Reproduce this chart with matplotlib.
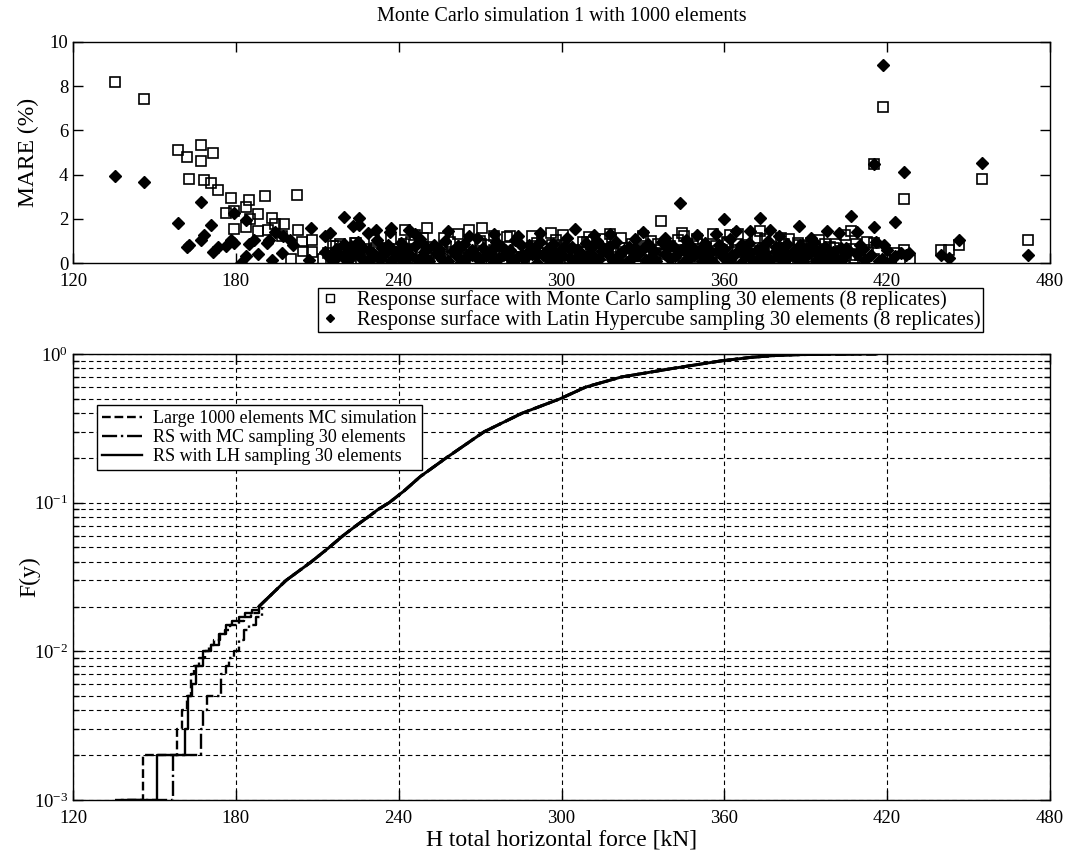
import matplotlib
matplotlib.use("Agg")
import matplotlib.pyplot as plt
from matplotlib.ticker import LogLocator, FixedLocator, NullFormatter

plt.rcParams['font.family'] = ['Liberation Serif', 'DejaVu Serif']
plt.rcParams['mathtext.fontset'] = 'stix'

# ---- top panel: MARE of the response surfaces ----
# Monte Carlo sampled response surface (open squares)
mc_out_x = [135.6, 146.1, 158.6, 162.0, 167.3, 167.3, 171.5, 162.9, 168.4, 171.0,
            173.4, 178.2, 176.5, 179.4, 183.9, 184.9, 190.9, 202.4, 179.5, 183.8,
            185.2, 188.2, 188.2, 193.3, 192.0, 194.6, 197.6, 197.1, 202.9, 204.4,
            208.0, 200.4, 204.8, 208.0, 212.0, 215.8, 224.2, 237.3, 242.2, 250.6,
            265.8, 270.6, 256.7, 275.3, 289.2, 219.4, 418.5, 415.3, 455.0, 426.2,
            336.8, 373.2, 355.7, 344.5, 406.7, 404.5, 471.8, 446.4, 440.0, 442.8,
            428.3, 426.2, 422.8, 420.0, 408.7, 408.7, 412.5, 415.3, 392.3, 397.0,
            387.0, 318.0, 330.0, 300.5, 310.0, 350.0, 362.0, 381.0, 401.0, 413.0,
            246.0, 262.0, 281.0, 296.0, 322.0, 345.0, 365.0, 372.0, 384.0, 395.0]
mc_out_y = [8.20, 7.40, 5.13, 4.80, 5.36, 4.61, 4.97, 3.82, 3.74, 3.64,
            3.29, 2.95, 2.28, 2.35, 2.54, 2.83, 3.01, 3.07, 1.56, 1.62,
            1.99, 2.20, 1.47, 2.02, 1.50, 1.77, 1.75, 1.24, 1.50, 0.94,
            1.02, 0.19, 0.55, 0.49, 0.19, 0.75, 0.90, 1.08, 1.50, 1.57,
            1.50, 1.57, 1.15, 1.23, 1.20, 0.07, 7.07, 4.46, 3.82, 2.89,
            1.92, 1.47, 1.32, 1.35, 1.47, 1.27, 1.05, 0.82, 0.57, 0.57,
            0.12, 0.57, 0.45, 0.15, 0.34, 0.87, 0.93, 0.90, 0.82, 0.87,
            0.90, 1.30, 1.22, 1.28, 1.18, 1.10, 1.25, 1.15, 0.85, 0.60,
            1.25, 1.30, 1.20, 1.35, 1.15, 1.20, 1.30, 1.15, 1.10, 1.05]
mc_band_x = [215, 219, 222, 226, 229, 233, 236, 240, 243, 247,
             250, 254, 257, 261, 264, 268, 271, 275, 278, 282,
             285, 289, 292, 296, 299, 303, 306, 310, 313, 317,
             320, 324, 327, 331, 334, 338, 341, 345, 348, 352,
             355, 359, 362, 366, 369, 373, 376, 380, 383, 387,
             390, 394, 397, 401, 404, 408, 411, 415,
             217, 221, 224, 228, 231, 235, 238, 242, 245, 249,
             252, 256, 259, 263, 266, 270, 273, 277, 280, 284,
             287, 291, 294, 298, 301, 305, 308, 312, 315, 319,
             322, 326, 329, 333, 336, 340, 343, 347, 350, 354,
             357, 361, 364, 368, 371, 375, 378, 382, 385, 389,
             392, 396, 399, 403,
             214, 220.5, 227, 232.5, 239, 244.5, 251, 256.5, 263, 268.5,
             275, 280.5, 287, 292.5, 299, 304.5, 311, 316.5, 323, 328.5,
             335, 340.5, 347, 352.5, 359, 364.5, 371, 376.5, 383, 388.5,
             395, 400.5, 407,
             218.5, 225, 231.5, 238, 244.5, 251, 257.5, 264, 270.5, 277,
             283.5, 290, 296.5, 303, 309.5, 316, 322.5, 329, 335.5, 342,
             348.5, 355, 361.5, 368, 374.5, 381, 387.5, 394, 400.5, 410]
mc_band_y = [0.20, 0.06, 0.33, 0.14, 0.02, 0.27, 0.38, 0.09, 0.22, 0.04,
             0.31, 0.16, 0.42, 0.07, 0.25, 0.12, 0.36, 0.03, 0.19, 0.29,
             0.10, 0.40, 0.05, 0.23, 0.15, 0.34, 0.01, 0.26, 0.11, 0.37,
             0.08, 0.21, 0.30, 0.04, 0.17, 0.39, 0.13, 0.02, 0.28, 0.10,
             0.35, 0.06, 0.24, 0.15, 0.41, 0.03, 0.20, 0.11, 0.32, 0.07,
             0.26, 0.14, 0.02, 0.30, 0.09, 0.22, 0.05, 0.18,
             0.78, 0.55, 0.92, 0.64, 1.05, 0.70, 0.50, 0.86, 0.61, 1.12,
             0.74, 0.58, 0.96, 0.67, 0.52, 1.00, 0.81, 0.60, 1.18, 0.71,
             0.54, 0.89, 0.65, 1.06, 0.76, 0.57, 0.94, 0.62, 1.10, 0.72,
             0.50, 0.84, 0.68, 0.98, 0.59, 0.79, 1.02, 0.63, 0.88, 0.53,
             0.75, 0.95, 0.60, 0.82, 0.56, 1.08, 0.69, 0.87, 0.58, 0.77,
             0.91, 0.64, 0.73, 0.55,
             0.44, 0.58, 0.36, 0.50, 0.41, 0.63, 0.47, 0.33, 0.55, 0.45,
             0.60, 0.38, 0.52, 0.43, 0.66, 0.35, 0.49, 0.57, 0.40, 0.61,
             0.46, 0.37, 0.54, 0.42, 0.59, 0.48, 0.34, 0.56, 0.44, 0.51,
             0.39, 0.47, 0.62,
             0.85, 0.12, 0.66, 0.28, 0.93, 0.08, 0.72, 0.19, 0.88, 0.31,
             0.62, 0.05, 0.80, 0.24, 0.97, 0.14, 0.69, 0.30, 0.86, 0.10,
             0.75, 0.21, 0.91, 0.06, 0.67, 0.26, 0.83, 0.16, 0.70, 0.35]

# Latin Hypercube sampled response surface (filled diamonds)
lh_out_x = [135.6, 146.1, 158.6, 162.0, 162.9, 167.3, 167.3, 168.4, 171.0, 171.5,
            173.4, 176.5, 178.2, 179.4, 179.4, 183.8, 183.8, 185.0, 186.7, 188.2,
            191.4, 192.4, 193.3, 194.3, 182.0, 197.1, 197.5, 200.1, 201.0, 207.6,
            213.0, 214.6, 219.9, 223.2, 225.2, 225.4, 231.6, 228.7, 237.3, 236.7,
            243.7, 207.0, 214.6, 418.5, 415.3, 426.2, 455.0, 343.6, 360.0, 373.2,
            406.7, 422.9, 415.3, 387.5, 364.3, 369.6, 377.0, 398.0, 402.2, 408.8,
            471.8, 446.4, 440.0, 442.8, 428.0, 412.0, 404.0, 406.0, 410.0, 416.0,
            418.0, 420.0, 423.0, 425.0, 427.0, 246.0, 258.0, 275.0, 292.0, 305.0,
            318.0, 330.0, 350.0, 284.0, 266.0, 312.0, 338.0, 357.0, 392.0, 380.0,
            403.5, 409.0, 411.0, 414.0, 417.0, 419.0, 421.0]
lh_out_y = [3.94, 3.65, 1.80, 0.72, 0.82, 2.77, 1.02, 1.27, 1.74, 0.48,
            0.72, 0.78, 1.02, 0.90, 2.25, 1.95, 0.33, 0.87, 1.02, 0.42,
            0.90, 1.05, 0.15, 1.42, 0.00, 0.45, 1.20, 1.02, 0.82, 1.60,
            1.20, 1.38, 2.10, 1.68, 2.02, 1.72, 1.50, 1.35, 1.57, 1.39,
            1.50, 0.15, 0.22, 8.98, 4.46, 4.10, 4.52, 2.72, 1.99, 2.04,
            2.14, 1.87, 1.62, 1.69, 1.47, 1.47, 1.50, 1.47, 1.38, 1.39,
            0.34, 1.05, 0.34, 0.22, 0.45, 0.15, 0.30, 0.55, 0.80, 0.95,
            0.20, 0.60, 0.30, 0.45, 0.35, 1.30, 1.45, 1.30, 1.35, 1.55,
            1.30, 1.40, 1.25, 1.20, 1.22, 1.28, 1.15, 1.32, 1.12, 1.20,
            0.15, 0.40, 0.65, 0.35, 0.10, 0.80, 0.05]
lh_band_x = [216, 218, 221, 223, 226, 228, 230, 233, 235, 237,
             240, 242, 244, 247, 249, 251, 254, 256, 258, 261,
             263, 265, 268, 270, 272, 275, 277, 279, 282, 284,
             286, 289, 291, 293, 296, 298, 300, 303, 305, 307,
             310, 312, 314, 317, 319, 321, 324, 326, 328, 331,
             333, 335, 338, 340, 342, 345, 347, 349, 352, 354,
             356, 359, 361, 363, 366, 368, 370, 373, 375, 377,
             380, 382, 384, 387, 389, 391, 394, 396, 398, 401,
             217, 220, 222, 225, 227, 229, 232, 234, 236, 239,
             241, 243, 246, 248, 250, 253, 255, 257, 260, 262,
             264, 267, 269, 271, 274, 276, 278, 281, 283, 285,
             288, 290, 292, 295, 297, 299, 302, 304, 306, 309,
             311, 313, 316, 318, 320, 323, 325, 327, 330, 332,
             334, 337, 339, 341, 344, 346, 348, 351, 353, 355,
             358, 360, 362, 365, 367, 369, 372, 374, 376, 379,
             381, 383, 386, 388, 390, 393, 395, 397, 400, 403,
             213, 219.5, 224.5, 231, 237.5, 243, 249.5, 255, 261.5, 267,
             273.5, 279, 285.5, 291, 297.5, 303, 309.5, 315, 321.5, 327,
             333.5, 339, 345.5, 351, 357.5, 363, 369.5, 375, 381.5, 387,
             393.5, 399, 405,
             215.5, 222.5, 229.5, 236, 242.5, 249, 255.5, 262, 268.5, 275,
             281.5, 288, 294.5, 301, 307.5, 314, 320.5, 327, 333.5, 340,
             346.5, 353, 359.5, 366, 372.5, 379, 385.5, 392, 398.5, 405]
lh_band_y = [0.12, 0.35, 0.08, 0.41, 0.22, 0.05, 0.30, 0.18, 0.44, 0.10,
             0.27, 0.03, 0.38, 0.15, 0.32, 0.07, 0.43, 0.20, 0.11, 0.36,
             0.04, 0.25, 0.40, 0.13, 0.31, 0.06, 0.21, 0.39, 0.09, 0.28,
             0.16, 0.42, 0.02, 0.34, 0.19, 0.08, 0.37, 0.24, 0.12, 0.45,
             0.05, 0.29, 0.17, 0.40, 0.10, 0.33, 0.03, 0.22, 0.38, 0.14,
             0.26, 0.07, 0.41, 0.18, 0.31, 0.04, 0.23, 0.36, 0.11, 0.29,
             0.06, 0.39, 0.15, 0.27, 0.02, 0.34, 0.20, 0.09, 0.37, 0.13,
             0.25, 0.05, 0.32, 0.18, 0.08, 0.40, 0.14, 0.28, 0.06, 0.22,
             0.62, 0.85, 0.55, 0.95, 0.70, 0.58, 1.02, 0.66, 0.80, 0.52,
             0.91, 0.60, 0.75, 1.08, 0.57, 0.83, 0.64, 0.98, 0.53, 0.77,
             0.88, 0.61, 1.12, 0.68, 0.54, 0.93, 0.72, 0.59, 1.05, 0.81,
             0.56, 0.69, 0.97, 0.63, 0.86, 0.51, 1.15, 0.74, 0.60, 0.90,
             0.67, 1.00, 0.55, 0.79, 0.94, 0.58, 0.71, 1.10, 0.62, 0.84,
             0.53, 0.96, 0.66, 0.78, 0.57, 1.04, 0.73, 0.60, 0.89, 0.52,
             0.82, 0.65, 1.07, 0.56, 0.76, 0.92, 0.61, 0.70, 0.99, 0.54,
             0.68, 0.87, 0.58, 0.80, 0.63, 0.95, 0.55, 0.74, 0.50, 0.66,
             0.48, 0.33, 0.55, 0.40, 0.62, 0.30, 0.50, 0.44, 0.58, 0.35,
             0.47, 0.60, 0.38, 0.52, 0.45, 0.64, 0.32, 0.56, 0.42, 0.49,
             0.61, 0.36, 0.53, 0.46, 0.59, 0.34, 0.51, 0.43, 0.57, 0.39,
             0.48, 0.31, 0.45,
             0.24, 0.78, 0.18, 0.71, 0.29, 0.84, 0.21, 0.76, 0.26, 0.69,
             0.17, 0.81, 0.28, 0.73, 0.22, 0.87, 0.19, 0.70, 0.27, 0.79,
             0.16, 0.74, 0.25, 0.83, 0.20, 0.72, 0.30, 0.77, 0.23, 0.68]

# ---- bottom panel: empirical CDFs ----
# lower tails (step shaped)
mc_large_x = [135.4, 145.7, 158.5, 160.0, 162.0, 163.5, 164.5, 166.5, 168.5, 170.0,
              172.0, 174.0, 176.0, 178.0, 181.0, 183.0, 185.5, 188.5]
mc_large_F = [0.001, 0.002, 0.003, 0.004, 0.005, 0.007, 0.008, 0.009, 0.010, 0.011,
              0.012, 0.013, 0.014, 0.015, 0.016, 0.017, 0.018, 0.020]
rs_mc_x = [140.0, 156.7, 167.1, 168.0, 169.5, 174.4, 176.2, 177.5, 179.3, 181.0,
           183.0, 185.0, 187.5, 189.5]
rs_mc_F = [0.001, 0.002, 0.003, 0.004, 0.005, 0.007, 0.008, 0.009, 0.010, 0.012,
           0.014, 0.015, 0.017, 0.020]
rs_lh_x = [138.0, 150.8, 161.3, 162.2, 164.0, 165.2, 167.9, 170.7, 173.8, 176.2,
           178.7, 181.0, 183.5, 186.0, 188.4]
rs_lh_F = [0.001, 0.002, 0.003, 0.005, 0.006, 0.008, 0.010, 0.011, 0.013, 0.015,
           0.016, 0.017, 0.018, 0.019, 0.020]
# upper part, where the three curves coincide
body_x = [188.5, 194.0, 198.5, 207.8, 214.4, 219.5, 224.3, 228.7, 232.4, 236.5,
          242.0, 248.0, 257.5, 271.5, 285.5, 299.5, 309.0, 322.0, 341.0, 359.0,
          370.0, 380.0, 388.0, 396.0, 408.0, 416.0]
body_F = [0.02, 0.025, 0.03, 0.04, 0.05, 0.06, 0.07, 0.08, 0.09, 0.10,
          0.12, 0.15, 0.2, 0.3, 0.4, 0.5, 0.6, 0.7, 0.8, 0.9,
          0.95, 0.98, 0.99, 0.995, 0.999, 1.0]

x_ticks = [120, 180, 240, 300, 360, 420, 480]

W, H = 1076, 855
fig = plt.figure(figsize=(W / 100, H / 100), dpi=100)
ax1 = fig.add_axes([73 / W, 1 - 263 / H, 977 / W, 221 / H])
ax2 = fig.add_axes([73 / W, 1 - 800 / H, 977 / W, 446 / H])

# top panel
ax1.plot(mc_band_x + mc_out_x, mc_band_y + mc_out_y, 's', ms=7.5, mfc='none',
         mec='black', mew=1.2, linestyle='none')
ax1.plot(lh_band_x + lh_out_x, lh_band_y + lh_out_y, 'D', ms=6.4, mfc='black',
         mec='black', linestyle='none')
ax1.set_xlim(120, 480)
ax1.set_ylim(0, 10)
ax1.set_xticks(x_ticks)
ax1.set_yticks([0, 2, 4, 6, 8, 10])
ax1.set_ylabel('MARE (%)', fontsize=17)
ax1.yaxis.set_label_coords(-0.035, 0.5)
ax1.set_title('Monte Carlo simulation 1 with 1000 elements', fontsize=14.5, pad=15)

h_sq, = ax1.plot([], [], 's', ms=6, mfc='none', mec='black', mew=1.0)
h_di, = ax1.plot([], [], 'D', ms=4.5, mfc='black', mec='black')
fig.legend([h_sq, h_di],
           ['Response surface with Monte Carlo sampling 30 elements (8 replicates)',
            'Response surface with Latin Hypercube sampling 30 elements (8 replicates)'],
           loc='upper left', bbox_to_anchor=(318 / W, 1 - 288 / H), fontsize=14.8,
           frameon=True, fancybox=False, edgecolor='black', framealpha=1,
           borderpad=0.1, labelspacing=0.0, handletextpad=0.8, handlelength=1.0,
           borderaxespad=0)

# bottom panel
styles = [('--', mc_large_x, mc_large_F, 'Large 1000 elements MC simulation'),
          ('-.', rs_mc_x, rs_mc_F, 'RS with MC sampling 30 elements'),
          ('-', rs_lh_x, rs_lh_F, 'RS with LH sampling 30 elements')]
handles = []
for ls, xs, fs, label in styles:
    h, = ax2.plot(xs, fs, color='black', linestyle=ls, linewidth=1.7,
                  drawstyle='steps-post', label=label)
    ax2.plot(body_x, body_F, color='black', linestyle=ls, linewidth=2.1)
    handles.append(h)

ax2.set_yscale('log')
ax2.set_xlim(120, 480)
ax2.set_ylim(1e-3, 1)
ax2.set_xticks(x_ticks)
ax2.yaxis.set_major_locator(FixedLocator([1e-3, 1e-2, 1e-1, 1]))
ax2.yaxis.set_minor_locator(LogLocator(base=10, subs=range(2, 10)))
ax2.yaxis.set_minor_formatter(NullFormatter())
ax2.grid(True, which='both', axis='y', color='black', linestyle=(0, (4, 3)),
         linewidth=0.8)
ax2.grid(True, which='major', axis='x', color='black', linestyle=(0, (4, 3)),
         linewidth=0.8)
ax2.set_ylabel('F(y)', fontsize=17)
ax2.yaxis.set_label_coords(-0.033, 0.5)
ax2.set_xlabel('H total horizontal force [kN]', fontsize=17, labelpad=2)
ax2.legend(handles=handles, loc='upper left', bbox_to_anchor=(0.0246, 0.886),
           fontsize=13, frameon=True, fancybox=False, edgecolor='black',
           framealpha=1, borderpad=0.3, labelspacing=0.1, handlelength=2.2,
           handletextpad=0.6, borderaxespad=0)

for ax in (ax1, ax2):
    ax.tick_params(which='both', direction='in', top=True, right=True,
                   labelsize=13.5, width=1)
    ax.tick_params(which='major', length=7)
    ax.tick_params(which='minor', length=4)
    ax.tick_params(axis='x', pad=7)
    for s in ax.spines.values():
        s.set_linewidth(1.0)

fig.savefig('out.png', dpi=100)
